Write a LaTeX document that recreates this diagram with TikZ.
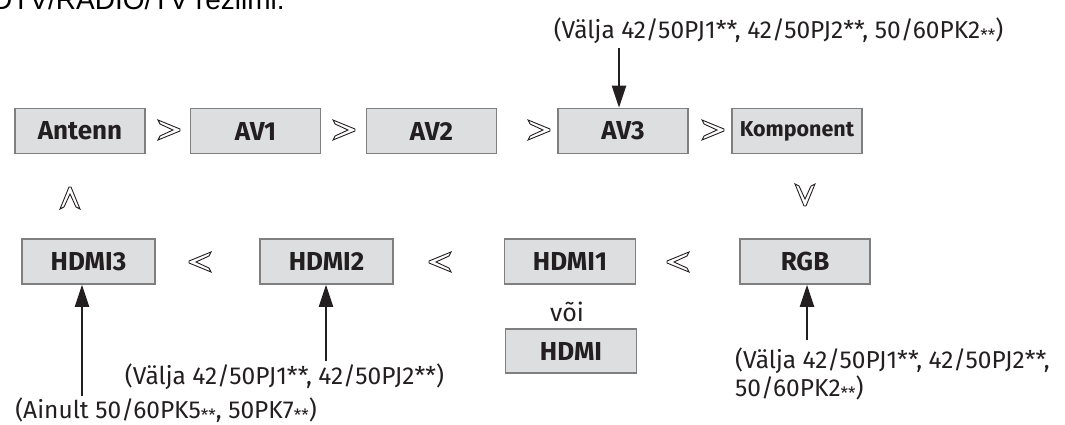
\documentclass[tikz,border=0pt]{standalone}
\usepackage{fontspec}
\setmainfont{Fira Sans}
\newfontfamily\arialf{Liberation Sans}
\usetikzlibrary{arrows.meta}
\definecolor{boxfill}{HTML}{DDDEE0}
\definecolor{boxline}{HTML}{7F7F7F}
\definecolor{ink}{HTML}{231F20}
\newcommand\midast{{\fontsize{17}{17}\selectfont\raisebox{-3pt}{**}}}
\tikzset{
  srcbox/.style={draw=boxline, line width=1.6pt, fill=boxfill, minimum width=130pt, minimum height=45pt, inner sep=0pt, text=ink, font=\fontsize{26}{30}\selectfont\bfseries},
  lbl/.style={text=ink, inner sep=0pt, font=\fontsize{24.5}{28}\selectfont},
  arr/.style={draw=ink, line width=2.4pt, -{Triangle[length=22pt,width=14pt]}},
  chevst/.style={draw=ink, line width=0.9pt, fill=white, line join=miter},
}
\newcommand\chevron[3]{\draw[chevst, shift={(#1,#2)}, rotate=#3] (-11,-10) -- (11,-1) -- (11,1) -- (-11,10) -- (-9,6) -- (4,0) -- (-9,-6) -- cycle;}
\begin{document}
\begin{tikzpicture}[x=1pt,y=-1pt]
\useasboundingbox (0,0) rectangle (1065,425);
\node[anchor=base west, inner sep=0pt, font=\arialf\fontsize{28}{30}\selectfont] (head) at (-8,9.5) {DTV/RADIO/TV režiimi.};
% top row
\node[srcbox] (ant) at (80,131) {Antenn};
\node[srcbox] (av1) at (255.5,131) {AV1};
\node[srcbox] (av2) at (431.5,131) {AV2};
\node[srcbox] (av3) at (623,131) {AV3};
\node[srcbox, font=\fontsize{21.5}{24}\selectfont\bfseries] (komp) at (797,131) {Komponent};
% bottom row
\node[srcbox, minimum width=133pt] (h3) at (88.5,261.5) {HDMI3};
\node[srcbox, minimum width=133pt] (h2) at (326.5,261.5) {HDMI2};
\node[srcbox, minimum width=131pt] (h1) at (570,261.5) {HDMI1};
\node[srcbox, minimum width=130pt] (rgb) at (805,261.5) {RGB};
\node[lbl, font=\fontsize{25}{28}\selectfont] (voi) at (567,312) {või};
\node[srcbox, minimum width=131pt, minimum height=44pt] (hdmi) at (571,351) {HDMI};
% chevrons
\chevron{169}{130}{0}
\chevron{344}{130}{0}
\chevron{539}{130}{0}
\chevron{713}{130}{0}
\chevron{805}{195}{-90}
\chevron{200}{262}{180}
\chevron{440}{262}{180}
\chevron{678}{262}{180}
\chevron{70}{198}{90}
% labels
\node[lbl] (ltop) at (778.5,31) {(Välja 42/50PJ1**, 42/50PJ2**, 50/60PK2\midast)};
\node[lbl] (lh2) at (284.5,377) {(Välja 42/50PJ1**, 42/50PJ2**)};
\node[lbl] (lh3) at (166,410) {(Ainult 50/60PK5\midast, 50PK7\midast)};
\node[lbl, anchor=north west, align=left] (lrgb) at (735,348) {(Välja 42/50PJ1**, 42/50PJ2**,\\50/60PK2\midast)};
% arrows
\coordinate (sav3) at (619,48);
\coordinate (sh3) at (82,396);
\coordinate (sh2) at (326,361);
\coordinate (srgb) at (807,340);
\draw[arr] (sav3) -- (sav3 |- av3.north);
\draw[arr] (sh3) -- (sh3 |- h3.south);
\draw[arr] (sh2) -- (sh2 |- h2.south);
\draw[arr] (srgb) -- (srgb |- rgb.south);
\end{tikzpicture}
\end{document}
